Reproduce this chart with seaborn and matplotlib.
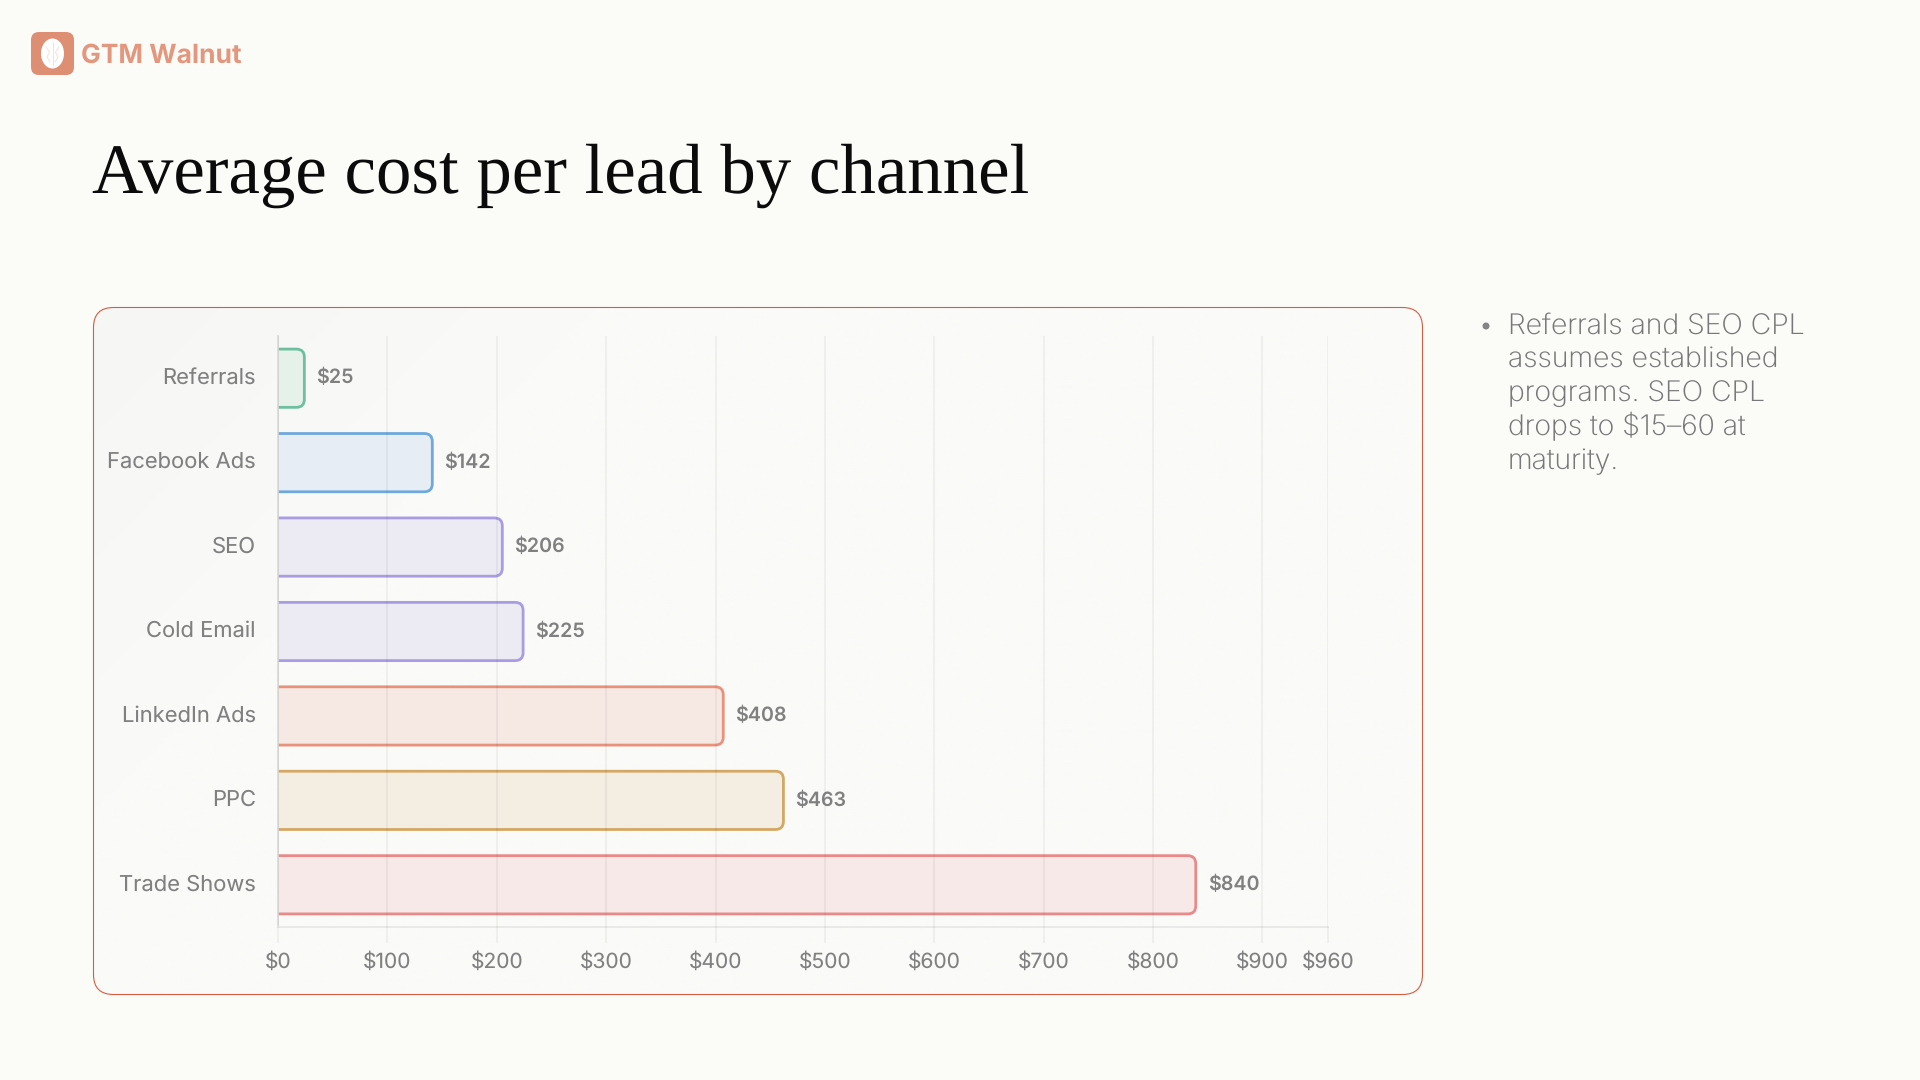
import matplotlib
matplotlib.use("Agg")
import matplotlib.pyplot as plt
import numpy as np
import pandas as pd
import seaborn as sns
from matplotlib.colors import LinearSegmentedColormap
from matplotlib.patches import Ellipse, FancyBboxPatch
from matplotlib.transforms import IdentityTransform, ScaledTranslation

channels = ["Referrals", "Facebook Ads", "SEO", "Cold Email", "LinkedIn Ads", "PPC", "Trade Shows"]
cost_per_lead = [25, 142, 206, 225, 408, 463, 840]
edge_colors = ["#6DBF9F", "#6FA8DC", "#A99CE3", "#A99CE3", "#E8927C", "#D4A763", "#E88A8A"]
fill_colors = ["#E6F1EA", "#E6EDF4", "#ECEBF3", "#ECEBF3", "#F6E9E4", "#F4EDE2", "#F7E9E7"]
x_ticks = [0, 100, 200, 300, 400, 500, 600, 700, 800, 900, 960]
x_tick_labels = [f"${v}" for v in x_ticks]
title = "Average cost per lead by channel"
brand = "GTM Walnut"
note_lines = ["Referrals and SEO CPL", "assumes established", "programs. SEO CPL", "drops to $15\u201360 at", "maturity."]

W, H = 1920, 1080
PAGE = "#FBFBF7"
GRID_ALPHA = 0.055
TEXT = "#808080"
UI_FONT = ["Inter", "DejaVu Sans"]

sns.set_theme(style="white")
plt.rcParams["font.family"] = UI_FONT
plt.rcParams["text.hinting"] = "no_hinting"

fig = plt.figure(figsize=(W / 100, H / 100), dpi=100, facecolor=PAGE)

# Page layer in pixel coordinates: card, logo and text
page = fig.add_axes([0, 0, 1, 1], zorder=0)
page.axis("off")

CARD_BOX = dict(boxstyle="round,pad=0,rounding_size=20")
card = FancyBboxPatch((93.5, 307.5), 1329, 687, fc="none", ec="none", **CARD_BOX)
page.add_patch(card)
# Soft diagonal shading that fades out from the card's top-left corner
gx, gy = np.meshgrid(np.linspace(0, 1, 256), np.linspace(0, 1, 256))
gradient = np.clip((gx * 1329 + gy * 687) / 500, 0, 1)
shade = LinearSegmentedColormap.from_list("card", ["#F6F6F5", "#FAFAF8"])
img = page.imshow(gradient, extent=(93, 1423, 995, 307), cmap=shade, interpolation="bilinear",
                  aspect="auto", zorder=1)
img.set_clip_path(card)
page.add_patch(FancyBboxPatch((93.5, 307.5), 1329, 687, fc="none", ec="#D65C42", lw=0.8, zorder=2, **CARD_BOX))
page.set_xlim(0, W)
page.set_ylim(H, 0)

# Logo mark
page.add_patch(FancyBboxPatch((31, 32), 43, 43, boxstyle="round,pad=0,rounding_size=8",
                              fc="#DE8F73", ec="none", zorder=2))
page.add_patch(Ellipse((52.5, 53.5), 23, 30, fc="white", ec="none", zorder=3))
page.plot([46, 49.5, 47, 50], [47, 52, 57, 62], color="#F7DFD6", lw=0.7, zorder=4)
page.plot([59, 55.5, 58, 55], [47, 52, 57, 62], color="#F7DFD6", lw=0.7, zorder=4)
page.plot([52.5, 52.5], [42, 65], color="#F7DFD6", lw=0.7, zorder=4)
page.text(81, 62.5, brand, fontsize=19, fontweight="bold", color="#E3977E", va="baseline", ha="left", zorder=4)

page.text(92, 193, title, family=["Liberation Serif"], fontsize=51, color="#0B0B0B",
          va="baseline", ha="left", zorder=4)

# Side note
page.add_patch(Ellipse((1486, 326), 7, 7, fc="#858585", ec="none", zorder=4))
for i, line in enumerate(note_lines):
    page.text(1508, 333.5 + i * 34, line, fontsize=20.4, fontweight="light", color="#787878",
              va="baseline", ha="left", zorder=4)

# Bar chart axes
ax = fig.add_axes([278 / W, 1 - 927 / H, (1328 - 278) / W, (927 - 336) / H], zorder=1)
ax.patch.set_alpha(0)

df = pd.DataFrame({"channel": channels, "cost": cost_per_lead})
sns.barplot(data=df, y="channel", x="cost", hue="channel", palette=fill_colors, saturation=1,
            width=0.69, legend=False, ax=ax, zorder=1)

ax.set_xlim(0, 960)
ax.set_ylim(6.5, -0.5)
ax.set_xlabel("")
ax.set_ylabel("")
ax.set_xticks(x_ticks, x_tick_labels)
ax.tick_params(axis="x", bottom=True, length=11.5, width=1.1, color=(0, 0, 0, GRID_ALPHA),
               labelsize=15.1, labelcolor=TEXT, pad=7)
ax.tick_params(axis="y", left=False, labelsize=15.8, labelcolor=TEXT, pad=10)
ax.grid(axis="x", color="black", alpha=GRID_ALPHA, lw=1.1, zorder=3)
ax.set_axisbelow(False)
for side in ("top", "right"):
    ax.spines[side].set_visible(False)
ax.spines["left"].set_color("#DCDCDA")
ax.spines["left"].set_linewidth(1.3)
ax.spines["bottom"].set_color("#E8E8E6")
ax.spines["bottom"].set_linewidth(1.3)

# Nudge the category labels up to sit level with the bar centres
lift = ScaledTranslation(0, 1.7 / 72, fig.dpi_scale_trans)
for label in ax.get_yticklabels():
    label.set_transform(label.get_transform() + lift)

# Swap each square bar for a rounded one, keeping its extents from the axes scale
for bar, edge, fill in zip(ax.patches, edge_colors, fill_colors):
    (x0, y0), (x1, y1) = ax.transData.transform(
        [(bar.get_x(), bar.get_y()), (bar.get_x() + bar.get_width(), bar.get_y() + bar.get_height())]
    )
    y_low, y_high = min(y0, y1), max(y0, y1)
    rounded = FancyBboxPatch((x0 - 20, y_low), x1 - x0 + 19, y_high - y_low,
                             boxstyle="round,pad=0,rounding_size=8", fc=fill, ec=edge, lw=2.0,
                             transform=IdentityTransform(), zorder=1.5)
    ax.add_artist(rounded)
    rounded.set_clip_box(ax.bbox)
    bar.set_visible(False)

for container in ax.containers:
    for text in ax.bar_label(container, fmt="${:.0f}", padding=8, fontsize=14.2,
                             fontweight="semibold", color=TEXT):
        text.set_va("center")

fig.savefig("out.png", dpi=100, facecolor=PAGE)
